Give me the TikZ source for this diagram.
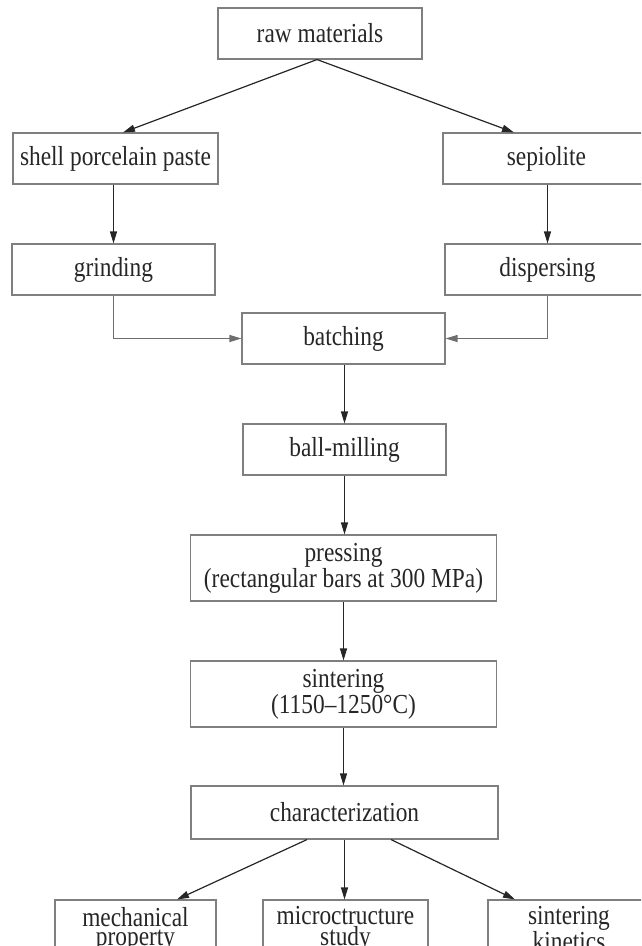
\documentclass[tikz,border=0pt]{standalone}
\usepackage{fontspec}
\setmainfont{Liberation Serif}[FakeStretch=0.85]
\usetikzlibrary{arrows.meta,calc}
\definecolor{boxgray}{HTML}{7F7F7F}
\definecolor{linedark}{HTML}{262626}
\definecolor{ingray}{HTML}{6E6E6E}
\begin{document}
\begin{tikzpicture}[x=1pt,y=-1pt,
  every node/.style={font=\fontsize{27.5}{22}\selectfont, text=linedark},
  stepbox/.style={draw=boxgray, line width=1.1pt, rectangle, inner sep=0pt, align=center},
  twoline/.style={font=\fontsize{27.5}{19}\selectfont},
  flow/.style={draw=linedark, line width=1.2pt, -{Triangle[length=12pt,width=7pt]}},
  grayflow/.style={draw=ingray, line width=1.2pt, -{Triangle[length=12pt,width=7pt]}}]
\clip (0,0) rectangle (641,946);
\useasboundingbox (0,0) rectangle (641,946);
\node[stepbox, minimum width=204pt, minimum height=51pt] (raw) at (320,33.5) {raw materials};
\node[stepbox, minimum width=205pt, minimum height=51pt] (shell) at (115.5,158.5) {shell porcelain paste};
\node[stepbox, minimum width=207pt, minimum height=51pt] (sep) at (546.5,158.5) {sepiolite};
\node[stepbox, minimum width=203pt, minimum height=51pt] (grind) at (113.5,269.5) {grinding};
\node[stepbox, minimum width=205pt, minimum height=51pt] (disp) at (547.5,269.5) {dispersing};
\node[stepbox, minimum width=203pt, minimum height=51pt] (batch) at (343.5,338.5) {batching};
\node[stepbox, minimum width=203pt, minimum height=51pt] (ball) at (344.5,449.5) {ball-milling};
\node[stepbox, minimum width=306pt, minimum height=66pt] (press) at (343.5,568) {pressing\\(rectangular bars at 300 MPa)};
\node[stepbox, minimum width=306pt, minimum height=66pt] (sint) at (343.5,694) {sintering\\(1150–1250°C)};
\node[stepbox, minimum width=307pt, minimum height=53pt] (char) at (344.5,812.5) {characterization};
\node[stepbox, twoline, minimum width=161pt, minimum height=58pt] (mech) at (135.5,929) {mechanical\\property};
\node[stepbox, twoline, minimum width=165pt, minimum height=58pt] (micro) at (345.5,929) {microctructure\\study};
\node[stepbox, twoline, minimum width=162pt, minimum height=58pt] (kin) at (569,929) {sintering\\kinetics};
% connectors
\draw[flow] ([xshift=-3pt]raw.south) -- ([xshift=7.5pt]shell.north);
\draw[flow] ([xshift=-3pt]raw.south) -- ([xshift=-32.5pt]sep.north);
\draw[flow] (shell.south -| grind.north) -- (grind.north);
\draw[flow] (sep.south -| disp.north) -- (disp.north);
\draw[grayflow] (grind.south) |- (batch.west);
\draw[grayflow] (disp.south) |- (batch.east);
\draw[flow] (batch.south -| ball.north) -- (ball.north);
\draw[flow] (ball.south) -- (ball.south |- press.north);
\draw[flow] (press.south) -- (press.south |- sint.north);
\draw[flow] (sint.south) -- (sint.south |- char.north);
\draw[flow] ([xshift=-37.5pt]char.south) -- ([xshift=41.5pt]mech.north);
\draw[flow] (char.south) -- (char.south |- micro.north);
\draw[flow] ([xshift=46.5pt]char.south) -- ([xshift=-54pt]kin.north);
\end{tikzpicture}
\end{document}
